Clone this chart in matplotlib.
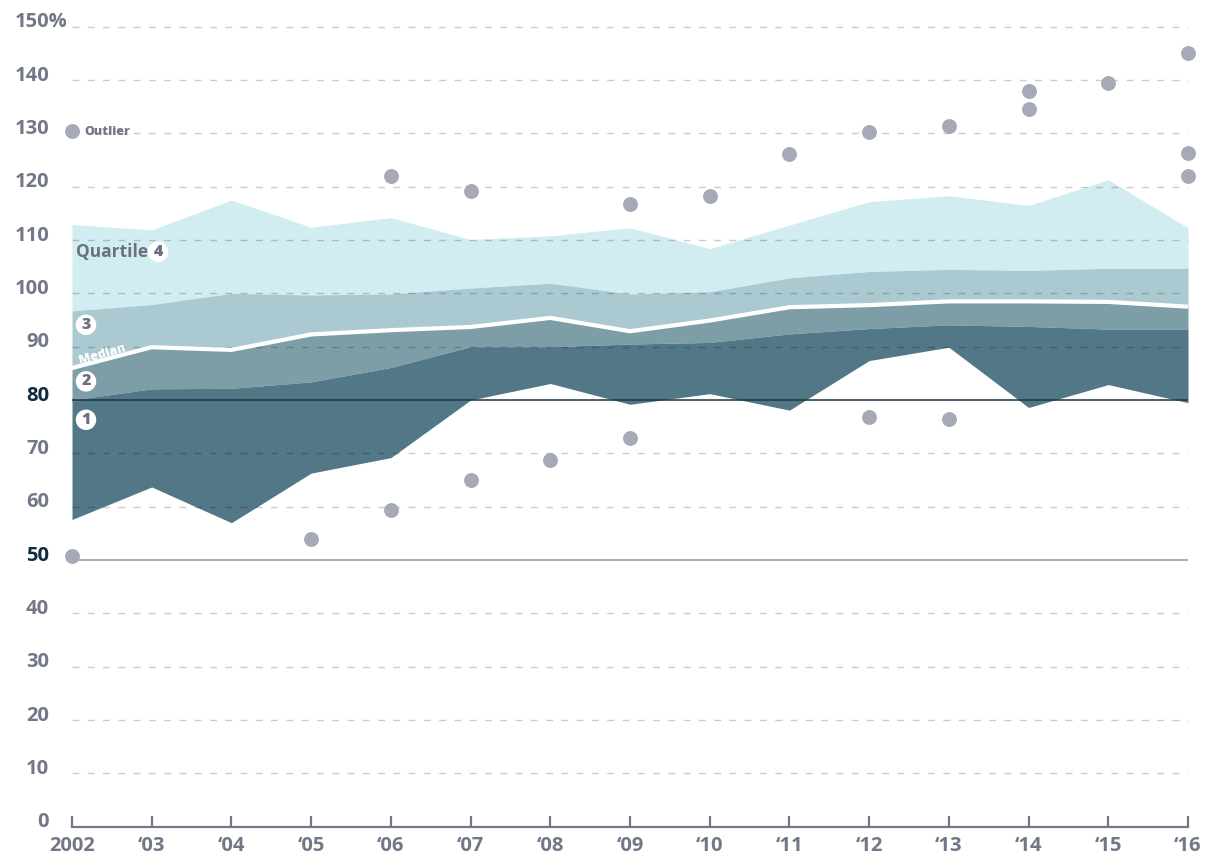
import matplotlib
matplotlib.use("Agg")
import matplotlib.pyplot as plt
import matplotlib.transforms as mtransforms
import numpy as np

plt.rcParams['font.family'] = ['Open Sans', 'DejaVu Sans']

# ---------------- data ----------------
years = list(range(2002, 2017))
year_labels = ["2002", "\u201803", "\u201804", "\u201805", "\u201806", "\u201807", "\u201808",
               "\u201809", "\u201810", "\u201811", "\u201812", "\u201813", "\u201814", "\u201815", "\u201816"]
q_max = [112.9, 111.9, 117.5, 112.4, 114.2, 110.1, 110.8, 112.3, 108.4, 112.8, 117.2, 118.3, 116.5, 121.3, 112.3]
q3 = [96.7, 97.9, 100.0, 99.7, 99.9, 101.0, 101.9, 99.9, 100.3, 102.9, 104.1, 104.5, 104.3, 104.7, 104.7]
median = [86.0, 89.9, 89.4, 92.3, 93.1, 93.7, 95.4, 92.9, 94.9, 97.4, 97.8, 98.5, 98.5, 98.4, 97.5]
q1 = [80.0, 82.1, 82.2, 83.4, 86.1, 90.0, 90.0, 90.5, 90.8, 92.4, 93.4, 94.1, 93.8, 93.3, 93.3]
q_min = [57.6, 63.7, 57.0, 66.3, 69.2, 80.0, 83.1, 79.2, 81.2, 78.1, 87.4, 89.9, 78.6, 82.9, 79.5]

outlier_years = [2002, 2005, 2006, 2006, 2007, 2007, 2008, 2009, 2009, 2010, 2011,
                 2012, 2012, 2013, 2013, 2014, 2014, 2015, 2016, 2016, 2016]
outlier_values = [50.8, 54.0, 122.0, 59.4, 119.2, 65.0, 68.7, 116.7, 72.9, 118.2, 126.2,
                  130.3, 76.8, 131.4, 76.5, 138.0, 134.6, 139.5, 145.0, 126.4, 122.1]

legend_year = 2002
legend_value = 130.5

yticks = list(range(0, 151, 10))
ref_line = 80
base_line = 50

# ---------------- style ----------------
C_Q4 = "#d1edf1"
C_Q3 = "#abc9d0"
C_Q2 = "#7d9ea7"
C_Q1 = "#527786"
C_DOT = "#a6a9b6"
C_TXT = "#737888"
C_NAVY = "#0f2c3c"
FS = 14.5

W, H = 1208, 855
fig = plt.figure(figsize=(W / 100, H / 100), dpi=100)
left_px, right_px = 72, 1188
top_px, bot_px = 26.7, 826.7
ax = fig.add_axes([left_px / W, (H - bot_px) / H, (right_px - left_px) / W, (bot_px - top_px) / H])
ax.set_xlim(2002, 2016)
ax.set_ylim(0, 150)

# bands
ax.fill_between(years, q3, q_max, color=C_Q4, lw=0, zorder=1)
ax.fill_between(years, median, q3, color=C_Q3, lw=0, zorder=1)
ax.fill_between(years, q1, median, color=C_Q2, lw=0, zorder=1)
ax.fill_between(years, q_min, q1, color=C_Q1, lw=0, zorder=1)

# gridlines
for v in yticks:
    if v in (0, ref_line, base_line):
        continue
    ax.plot([2002, 2016], [v, v], color="black", alpha=0.2, lw=1.0,
            dashes=(5, 6), zorder=2, clip_on=False)

# median line
ax.plot(years, median, color="white", lw=3.0, zorder=3, solid_joinstyle="miter")

# reference lines
ax.plot([2002, 2016], [ref_line, ref_line], color="#1b3644", lw=1.1, zorder=4)
ax.plot([2002, 2016], [base_line, base_line], color="#8d96a0", lw=1.1, zorder=2)

# outliers
ax.scatter(outlier_years, outlier_values, s=115, color=C_DOT, lw=0, zorder=5, clip_on=False)
ax.scatter([legend_year], [legend_value], s=115, color=C_DOT, lw=0, zorder=5, clip_on=False)
ax.annotate("Outlier", xy=(legend_year, legend_value), xytext=(12, -1), textcoords="offset pixels",
            fontsize=9, fontweight="heavy", color=C_TXT, va="center", ha="left")

# axes styling
for s in ("top", "right", "left"):
    ax.spines[s].set_visible(False)
ax.spines["bottom"].set_color(C_TXT)
ax.spines["bottom"].set_linewidth(1.6)
ax.set_xticks(years)
ax.set_xticklabels(year_labels)
ax.tick_params(axis="x", direction="in", length=8, width=1.6, color=C_TXT,
               labelsize=FS, labelcolor=C_TXT, pad=7)
ax.set_yticks(yticks)
ylabels = [str(v) + ("%" if v == 150 else "") for v in yticks]
ax.set_yticklabels(ylabels)
ax.tick_params(axis="y", length=0, labelsize=FS, labelcolor=C_TXT, pad=23 * 0.72)

# width of "%" so that the digits of 150 align with the others
renderer = fig.canvas.get_renderer()
tmp = fig.text(0, 0, "%", fontsize=FS, fontweight="bold")
pct_w = tmp.get_window_extent(renderer).width
tmp.remove()

for lab in ax.get_xticklabels() + ax.get_yticklabels():
    lab.set_fontweight("bold")
for lab in ax.get_yticklabels():
    dx = pct_w / 100 if lab.get_text().endswith("%") else 0
    lab.set_transform(lab.get_transform() + mtransforms.ScaledTranslation(dx, 5 / 72, fig.dpi_scale_trans))
    if lab.get_text() in (str(ref_line), str(base_line)):
        lab.set_color(C_NAVY)

# labels inside
def circ(x_off_px, yv, txt):
    ax.annotate(txt, xy=(2002, yv), xytext=(x_off_px, 0), textcoords="offset pixels",
                fontsize=11.5, fontweight="heavy", color="#6b7080", ha="center", va="center",
                bbox=dict(boxstyle="circle,pad=0.14", fc="white", ec="none"), zorder=6)

ax.annotate("Quartile", xy=(2002, 107.8), xytext=(76, 0), textcoords="offset pixels",
            fontsize=12.5, fontweight="bold", color="#6b7080", ha="right", va="center", zorder=6)
circ(86, 107.8, "4")
circ(14, 94.1, "3")
circ(14, 83.5, "2")
circ(14, 76.3, "1")
ax.annotate("Median", xy=(2002, 88.6), xytext=(30, 0), textcoords="offset pixels",
            fontsize=9, fontweight="heavy", color="white", ha="center", va="center",
            rotation=16, rotation_mode="anchor", zorder=6)

fig.savefig("out.png", dpi=100)
